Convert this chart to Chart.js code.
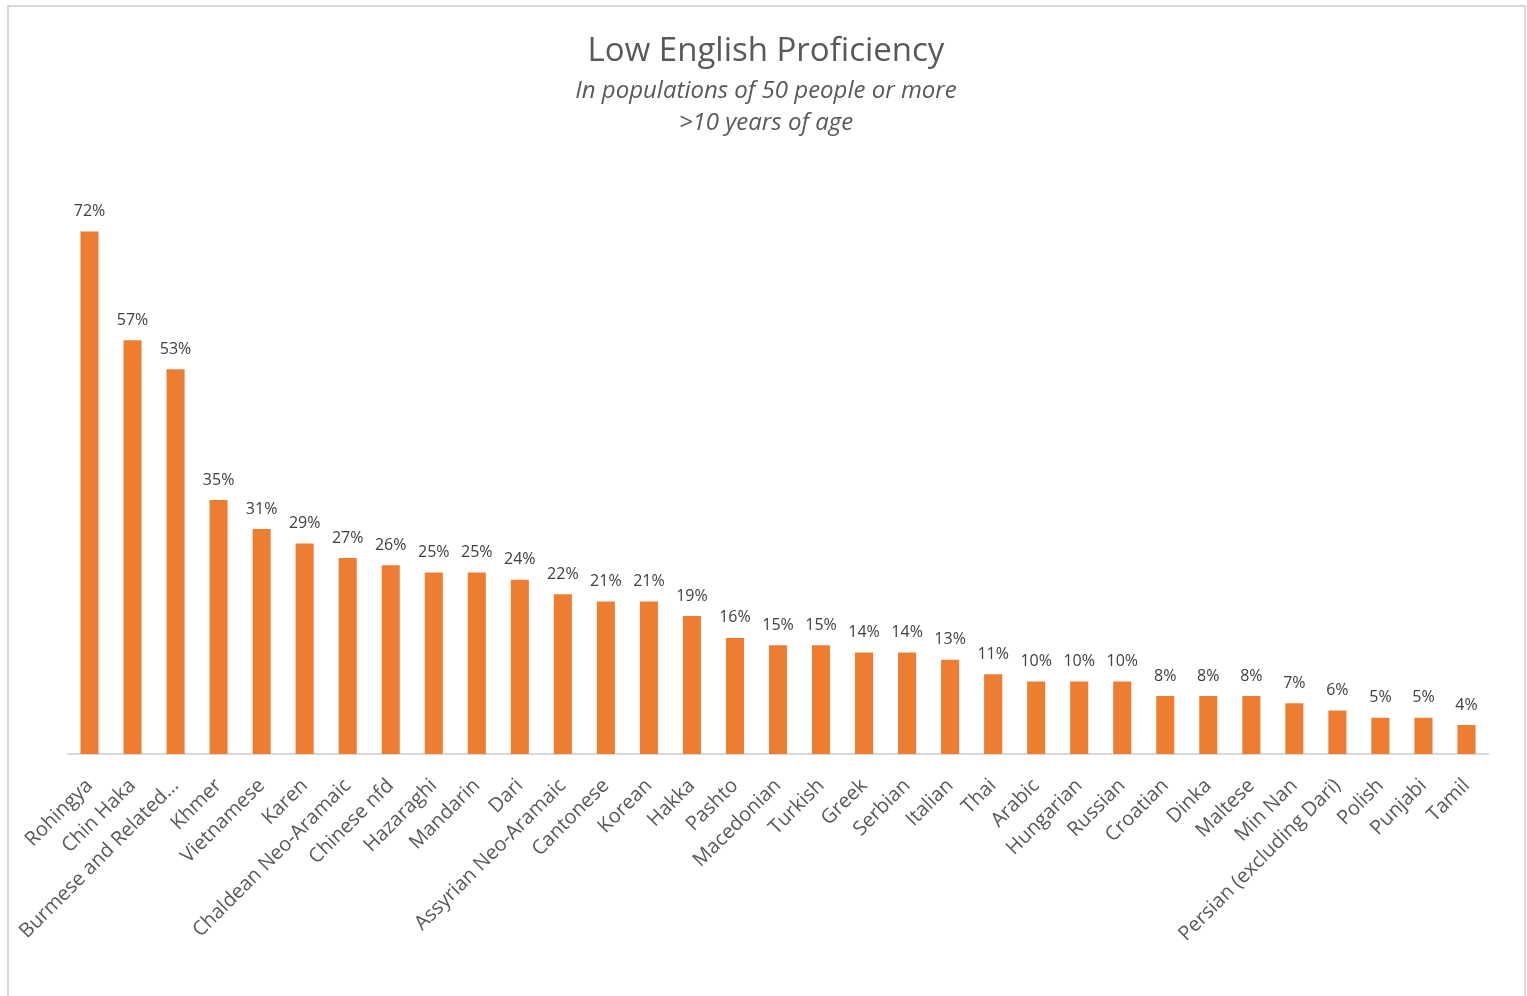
<!DOCTYPE html>
<html>
<head>
<meta charset="utf-8">
<script src="https://cdn.jsdelivr.net/npm/chart.js@4.4.1/dist/chart.umd.min.js"></script>
<style>
  html,body{margin:0;padding:0;background:#fff;overflow:hidden;}
  #frame{position:absolute;left:7px;top:5px;width:1519px;height:1100px;box-sizing:border-box;border:2px solid #d9d9d9;pointer-events:none;}
  #chart{position:absolute;left:0;top:0;}
</style>
</head>
<body>
<canvas id="chart" width="1527" height="996"></canvas>
<div id="frame"></div>
<script>
// Low English Proficiency - share per language group (%)
const languages = ['Rohingya','Chin Haka','Burmese and Related…','Khmer','Vietnamese','Karen','Chaldean Neo-Aramaic','Chinese nfd','Hazaraghi','Mandarin','Dari','Assyrian Neo-Aramaic','Cantonese','Korean','Hakka','Pashto','Macedonian','Turkish','Greek','Serbian','Italian','Thai','Arabic','Hungarian','Russian','Croatian','Dinka','Maltese','Min Nan','Persian (excluding Dari)','Polish','Punjabi','Tamil'];
const lowProficiency = [72,57,53,35,31,29,27,26,25,25,24,22,21,21,19,16,15,15,14,14,13,11,10,10,10,8,8,8,7,6,5,5,4];
const chartTitle = 'Low English Proficiency';
const chartSubtitle = ['In populations of 50 people or more','>10 years of age'];

// etiquetas de valor encima de cada barra
const valueLabels = {
  id:'valueLabels',
  afterDatasetsDraw(chart){
    const ctx = chart.ctx;
    const meta = chart.getDatasetMeta(0);
    ctx.save();
    ctx.font = '16px "Open Sans"';
    ctx.fillStyle = '#404040';
    ctx.textAlign = 'center';
    ctx.textBaseline = 'bottom';
    meta.data.forEach((bar,i)=>{
      ctx.fillText(lowProficiency[i] + '%', bar.x, bar.y - 12);
    });
    ctx.restore();
  }
};

new Chart(document.getElementById('chart'), {
  type:'bar',
  data:{
    labels: languages,
    datasets:[{
      data: lowProficiency,
      backgroundColor:'#ED7D31',
      borderWidth:0,
      barPercentage:0.42,
      categoryPercentage:1
    }]
  },
  options:{
    responsive:false,
    animation:false,
    devicePixelRatio:1,
    layout:{padding:{left:44,right:39,top:0,bottom:0}},
    plugins:{
      legend:{display:false},
      tooltip:{enabled:false},
      title:{
        display:true, text:chartTitle, color:'#595959',
        font:{family:'"Open Sans"',size:33,weight:'normal',lineHeight:1.2},
        padding:{top:32,bottom:0}
      },
      subtitle:{
        display:true, text:chartSubtitle, color:'#595959',
        font:{family:'"Open Sans"',size:24,style:'italic',weight:'normal',lineHeight:1.35},
        padding:{top:3,bottom:34}
      }
    },
    scales:{
      y:{
        min:0,max:80,
        grid:{display:false},
        border:{display:false},
        ticks:{display:false},
        afterFit(scale){ scale.width = 24; }
      },
      x:{
        grid:{display:false},
        border:{display:true,color:'#d9d9d9',width:2},
        ticks:{color:'#595959',font:{family:'"Open Sans"',size:20},minRotation:45,maxRotation:45,padding:12,autoSkip:false},
        afterFit(scale){ scale.height = 242; }
      }
    }
  },
  plugins:[valueLabels]
});
</script>
</body>
</html>
